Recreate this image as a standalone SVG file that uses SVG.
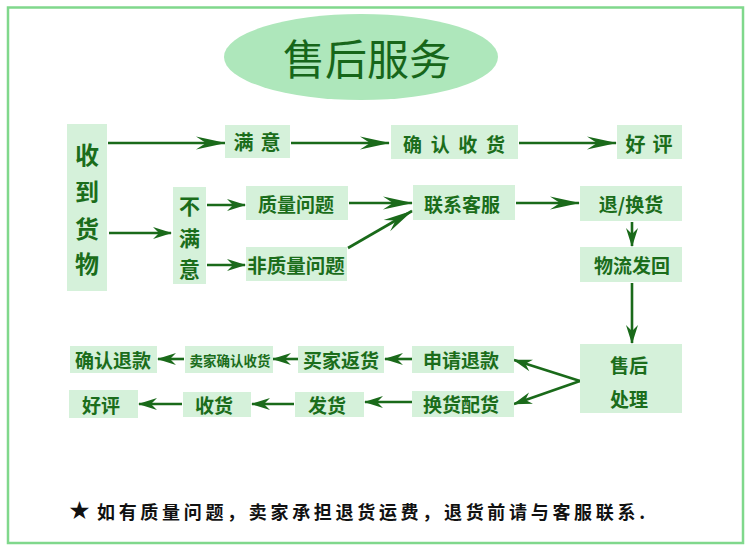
<svg xmlns="http://www.w3.org/2000/svg" width="750" height="550" viewBox="0 0 750 550">
<style>
.box{fill:#d5f1da}
.t{font-family:"Noto Sans CJK SC","Noto Sans",sans-serif;font-weight:bold;fill:#1b6d1b;text-anchor:middle;dominant-baseline:central}
.c{fill:none;stroke:#1a6a1a;stroke-width:2.6}
.big{marker-end:url(#ah-big)}
.sm{marker-end:url(#ah-sm)}
</style>
<defs>
<marker id="ah-big" markerUnits="userSpaceOnUse" orient="auto" refX="0" refY="0" markerWidth="40" markerHeight="20" overflow="visible">
<path d="M1,0 L-29,-6.5 L-19,0 L-29,6.5 Z" fill="#1a6a1a"/>
</marker>
<marker id="ah-sm" markerUnits="userSpaceOnUse" orient="auto" refX="0" refY="0" markerWidth="30" markerHeight="20" overflow="visible">
<path d="M1,0 L-18,-6 L-12,0 L-18,6 Z" fill="#1a6a1a"/>
</marker>
</defs>
<rect x="0" y="0" width="750" height="550" fill="#ffffff"/>
<rect x="8" y="7.5" width="735" height="535.5" fill="#ffffff" stroke="#80d88c" stroke-width="2.5"/>

<g id="title">
<ellipse cx="361" cy="57" rx="137" ry="43" fill="#aee7bb"/>
<text x="367" y="56" font-family="'Noto Sans CJK SC',sans-serif" font-size="42" fill="#17661a" text-anchor="middle" dominant-baseline="central">售后服务</text>
</g>

<g id="connectors">
<path class="c big" d="M108,143 H225"/>
<path class="c big" d="M291,143 H389"/>
<path class="c big" d="M519,143 H616"/>
<path class="c sm" d="M109,233 H171"/>
<path class="c sm" d="M207,205 H245"/>
<path class="c sm" d="M207,265 H245"/>
<path class="c big" d="M349,203 H412"/>
<path class="c big" d="M348,248 L412,211"/>
<path class="c big" d="M516,203 H579"/>
<path class="c sm" d="M632,222 V246"/>
<path class="c sm" d="M632,283 V343"/>
<path class="c sm" d="M580,381 L514,360"/>
<path class="c sm" d="M580,381 L514,404"/>
<path class="c sm" d="M412,359 H385"/>
<path class="c sm" d="M298,359 H273"/>
<path class="c sm" d="M184,359 H158"/>
<path class="c sm" d="M412,402 H365"/>
<path class="c sm" d="M294,404 H252"/>
<path class="c sm" d="M182,404 H139"/>
</g>

<g id="n-shouhuo">
<rect class="box" x="67" y="124" width="40" height="167"/>
<text class="t" x="87" y="153" font-size="24">收</text>
<text class="t" x="87" y="190" font-size="24">到</text>
<text class="t" x="87" y="227" font-size="24">货</text>
<text class="t" x="87" y="262" font-size="24">物</text>
</g>
<g id="n-manyi">
<rect class="box" x="225" y="125" width="65" height="33"/>
<text class="t" x="257" y="141" font-size="20" textLength="47" lengthAdjust="spacing">满 意</text>
</g>
<g id="n-queren">
<rect class="box" x="391" y="125" width="127" height="34"/>
<text class="t" x="454" y="143" font-size="19" textLength="102" lengthAdjust="spacing">确 认 收 货</text>
</g>
<g id="n-haoping1">
<rect class="box" x="617" y="125" width="65" height="34"/>
<text class="t" x="649" y="143" font-size="20" textLength="47" lengthAdjust="spacing">好 评</text>
</g>
<g id="n-bumanyi">
<rect class="box" x="173" y="187" width="33" height="97"/>
<text class="t" x="189.5" y="205" font-size="21">不</text>
<text class="t" x="189.5" y="237" font-size="21">满</text>
<text class="t" x="189.5" y="268" font-size="21">意</text>
</g>
<g id="n-zhiliang">
<rect class="box" x="246" y="186" width="102" height="34"/>
<text class="t" x="296" y="203" font-size="19">质量问题</text>
</g>
<g id="n-feizhiliang">
<rect class="box" x="246" y="247" width="101" height="34"/>
<text class="t" x="296" y="264" font-size="19.5">非质量问题</text>
</g>
<g id="n-lianxi">
<rect class="box" x="413" y="185" width="102" height="35"/>
<text class="t" x="462" y="203" font-size="19">联系客服</text>
</g>
<g id="n-tuihuan">
<rect class="box" x="580" y="186" width="102" height="35"/>
<text class="t" x="631" y="203" font-size="19">退/换货</text>
</g>
<g id="n-wuliu">
<rect class="box" x="580" y="247" width="102" height="35"/>
<text class="t" x="632" y="264" font-size="19">物流发回</text>
</g>
<g id="n-shouhou">
<rect class="box" x="580" y="344" width="102" height="69"/>
<text class="t" x="629" y="364" font-size="19">售后</text>
<text class="t" x="629" y="398" font-size="19">处理</text>
</g>
<g id="n-shenqing">
<rect class="box" x="412" y="346" width="102" height="27"/>
<text class="t" x="461" y="359" font-size="19">申请退款</text>
</g>
<g id="n-huanhuo">
<rect class="box" x="412" y="391" width="102" height="26"/>
<text class="t" x="461" y="403" font-size="19">换货配货</text>
</g>
<g id="n-maijiafanhuo">
<rect class="box" x="298" y="346" width="86" height="27"/>
<text class="t" x="341" y="359" font-size="19">买家返货</text>
</g>
<g id="n-maijiaqueren">
<rect class="box" x="185" y="346" width="88" height="27"/>
<text class="t" x="230" y="360" font-size="13.5">卖家确认收货</text>
</g>
<g id="n-tuikuan">
<rect class="box" x="70" y="346" width="87" height="27"/>
<text class="t" x="113" y="359" font-size="19">确认退款</text>
</g>
<g id="n-fahuo">
<rect class="box" x="295" y="392" width="69" height="25"/>
<text class="t" x="327" y="404" font-size="19">发货</text>
</g>
<g id="n-shouhuo2">
<rect class="box" x="183" y="392" width="68" height="25"/>
<text class="t" x="214" y="404" font-size="19">收货</text>
</g>
<g id="n-haoping2">
<rect class="box" x="69" y="390" width="69" height="28"/>
<text class="t" x="101" y="404" font-size="19">好评</text>
</g>

<g id="footer">
<text x="79.5" y="510" font-family="'DejaVu Sans',sans-serif" font-size="25" fill="#111111" text-anchor="middle" dominant-baseline="central">★</text>
<text x="97" y="511" font-family="'Noto Sans CJK SC',sans-serif" font-weight="bold" font-size="18" fill="#111111" dominant-baseline="central" textLength="548" lengthAdjust="spacing">如有质量问题，卖家承担退货运费，退货前请与客服联系.</text>
</g>
</svg>
